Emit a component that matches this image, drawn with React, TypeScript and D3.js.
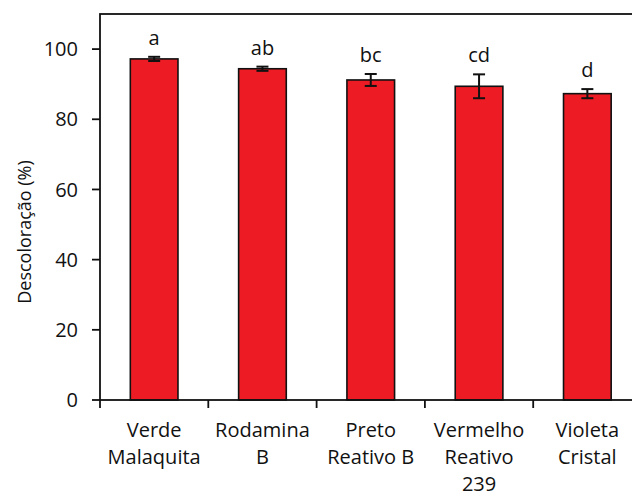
import React from "react";
import * as d3 from "d3";

// Decolorization per dye (mean ± error) with significance letters
const categories = ["Verde Malaquita", "Rodamina B", "Preto Reativo B", "Vermelho Reativo 239", "Violeta Cristal"];
const categoryLines = [["Verde", "Malaquita"], ["Rodamina", "B"], ["Preto", "Reativo B"], ["Vermelho", "Reativo", "239"], ["Violeta", "Cristal"]];
const means = [97.2, 94.4, 91.2, 89.4, 87.3];
const errors = [0.6, 0.6, 1.7, 3.4, 1.3];
const letters = ["a", "ab", "bc", "cd", "d"];
const yTicks = [0, 20, 40, 60, 80, 100];
const yTitle = "Descoloração (%)";

const W = 632;
const H = 493;
const FONT = "'Open Sans', 'DejaVu Sans', sans-serif";
const INK = "#111";

export default function App() {
  const x = d3
    .scaleBand<string>()
    .domain(categories)
    .range([100, 641.5])
    .paddingInner(0.56)
    .paddingOuter(0.28);
  const y = d3.scaleLinear().domain([0, 110]).range([400, 14]);
  const step = x.step();
  const bw = x.bandwidth();
  const x0 = x.range()[0];
  const x1 = x.range()[1];
  const cap = 6;

  return (
    <svg
      width={W}
      height={H}
      style={{ position: "absolute", left: 0, top: 0, background: "#fff" }}
      fontFamily={FONT}
    >
      {/* bars */}
      {categories.map((c, i) => (
        <rect
          key={c}
          x={x(c)}
          y={y(means[i])}
          width={bw}
          height={y(0) - y(means[i])}
          fill="#ED1C24"
          stroke={INK}
          strokeWidth={1.6}
        />
      ))}

      {/* error bars */}
      {categories.map((c, i) => {
        const cx = (x(c) as number) + bw / 2;
        const top = y(means[i] + errors[i]);
        const bot = y(means[i] - errors[i]);
        return (
          <g key={c} stroke={INK} strokeWidth={2}>
            <line x1={cx} x2={cx} y1={top} y2={bot} />
            <line x1={cx - cap} x2={cx + cap} y1={top} y2={top} />
            <line x1={cx - cap} x2={cx + cap} y1={bot} y2={bot} />
          </g>
        );
      })}

      {/* significance letters */}
      {categories.map((c, i) => (
        <text
          key={c}
          x={(x(c) as number) + bw / 2}
          y={y(means[i] + errors[i]) - 12}
          textAnchor="middle"
          fontSize={20}
          fill={INK}
        >
          {letters[i]}
        </text>
      ))}

      {/* plot frame */}
      <rect x={x0} y={y(110)} width={x1 - x0} height={y(0) - y(110)} fill="none" stroke={INK} strokeWidth={1.8} />

      {/* y axis ticks and labels */}
      {yTicks.map((t) => (
        <g key={t}>
          <line x1={x0 - 8} x2={x0} y1={y(t)} y2={y(t)} stroke={INK} strokeWidth={1.8} />
          <text x={x0 - 22} y={y(t)} dy="0.36em" textAnchor="end" fontSize={20} fill={INK}>
            {t}
          </text>
        </g>
      ))}

      {/* x axis boundary ticks */}
      {d3.range(categories.length + 1).map((k) => (
        <line key={k} x1={x0 + k * step} x2={x0 + k * step} y1={y(0)} y2={y(0) + 8} stroke={INK} strokeWidth={1.8} />
      ))}

      {/* category labels */}
      {categories.map((c, i) => (
        <text key={c} x={(x(c) as number) + bw / 2} y={437} textAnchor="middle" fontSize={20} fill={INK}>
          {categoryLines[i].map((ln, j) => (
            <tspan key={j} x={(x(c) as number) + bw / 2} y={437 + j * 27}>
              {ln}
            </tspan>
          ))}
        </text>
      ))}

      {/* y axis title */}
      <text
        transform={`translate(31, 232) rotate(-90)`}
        textAnchor="middle"
        fontSize={18}
        fill={INK}
      >
        {yTitle}
      </text>
    </svg>
  );
}
